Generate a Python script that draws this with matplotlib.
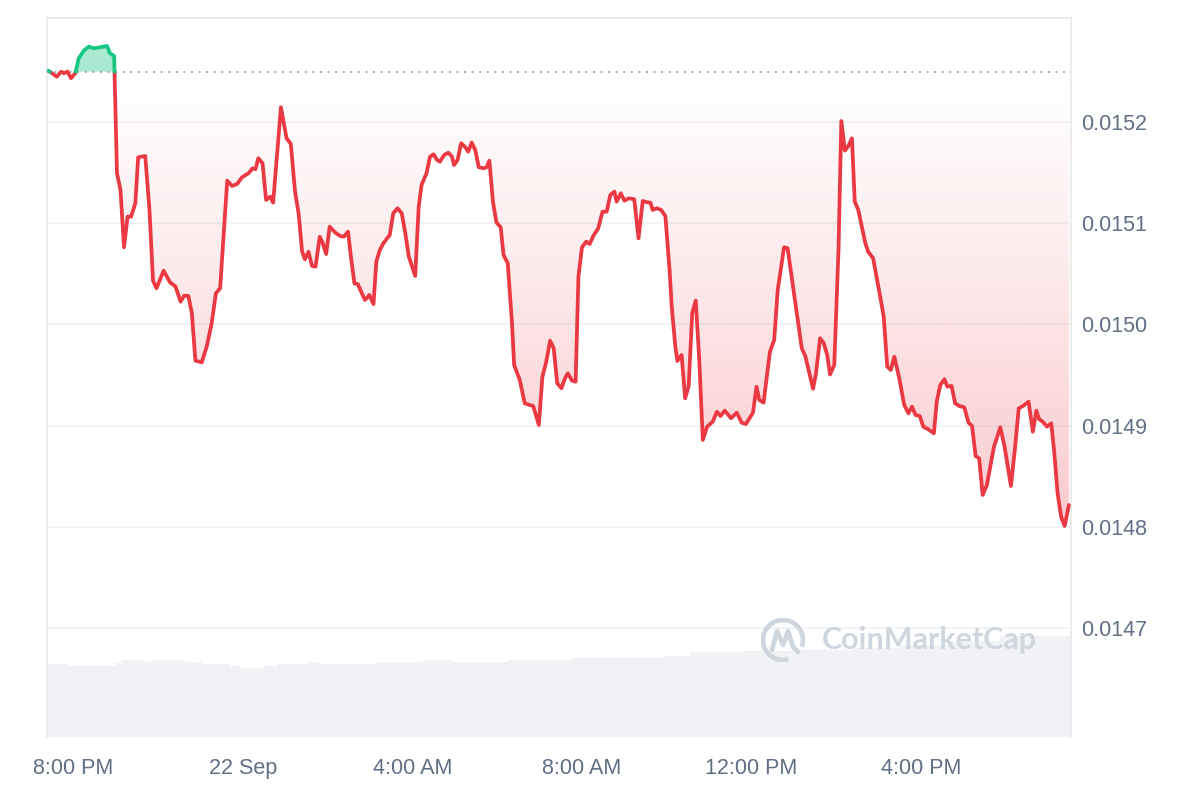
import numpy as np
import matplotlib
matplotlib.use('Agg')
import matplotlib.pyplot as plt
from matplotlib.path import Path
from matplotlib.patches import Arc

# minutes after 8:00 PM (21 Sep) and price in USD
minutes = [-35, -23, -17, -13, -8, -3, 3, 8, 15, 22, 29, 38, 48, 52, 58,
           62, 67, 72, 77, 82, 88, 92, 102, 108, 113, 118, 128, 137, 145, 152,
           157, 163, 168, 173, 182, 189, 196, 202, 208, 218, 225, 232, 239, 248, 254,
           258, 262, 268, 273, 279, 283, 294, 302, 308, 314, 319, 324, 328, 333, 338,
           343, 349, 353, 358, 363, 371, 378, 383, 389, 393, 398, 403, 409, 413, 419,
           425, 429, 434, 439, 448, 453, 459, 465, 470, 475, 484, 489, 493, 500, 505,
           510, 515, 519, 525, 531, 536, 539, 544, 549, 555, 559, 564, 569, 574, 581,
           585, 589, 594, 599, 605, 609, 615, 621, 624, 632, 639, 646, 651, 659, 664,
           669, 675, 680, 685, 691, 696, 700, 706, 711, 715, 720, 726, 731, 736, 743,
           749, 755, 760, 766, 769, 775, 780, 786, 794, 800, 806, 812, 817, 820, 826,
           832, 838, 844, 847, 852, 855, 861, 866, 871, 876, 881, 886, 891, 897, 905,
           911, 916, 922, 931, 939, 946, 952, 962, 967, 971, 977, 986, 992, 997, 1006,
           1011, 1022, 1031, 1036, 1047, 1051, 1057, 1062, 1067, 1071, 1077, 1083, 1087, 1092, 1097,
           1102, 1106, 1111, 1121, 1125, 1132, 1142, 1147, 1152, 1157, 1162, 1169, 1176, 1182, 1187,
           1192, 1198, 1203, 1210, 1218, 1222, 1227, 1233, 1237, 1243, 1248, 1254, 1261, 1267, 1272,
           1277, 1282, 1287, 1293, 1303, 1312, 1318, 1327, 1333, 1338, 1344, 1352, 1358, 1363, 1367,
           1372, 1378, 1384, 1388, 1393, 1398, 1403, 1409]

price = [0.0152507, 0.0152447, 0.0152497, 0.0152481, 0.0152497, 0.0152432, 0.0152481, 0.0152629,
         0.0152704, 0.0152744, 0.0152728, 0.0152738, 0.0152751, 0.0152679, 0.0152652,
         0.0151493, 0.0151328, 0.0150762, 0.0151065, 0.0151065, 0.0151197, 0.0151651, 0.0151664,
         0.0151131, 0.0150433, 0.0150358, 0.0150531, 0.0150417, 0.0150373, 0.0150225, 0.0150284,
         0.0150282, 0.0150111, 0.0149642, 0.0149627, 0.0149781, 0.0150012, 0.0150308, 0.0150358,
         0.0151420, 0.0151368, 0.0151388, 0.0151454, 0.0151493, 0.0151543, 0.0151533, 0.0151642,
         0.0151592, 0.0151230, 0.0151262, 0.0151203, 0.0152145, 0.0151839, 0.0151783, 0.0151312,
         0.0151098, 0.0150719, 0.0150644, 0.0150719, 0.0150578, 0.0150571, 0.0150867, 0.0150808,
         0.0150696, 0.0150966, 0.0150907, 0.0150874, 0.0150867, 0.0150917, 0.0150670, 0.0150407,
         0.0150397, 0.0150301, 0.0150242, 0.0150291, 0.0150202, 0.0150620, 0.0150736, 0.0150802,
         0.0150884, 0.0151098, 0.0151148, 0.0151098, 0.0150901, 0.0150670, 0.0150479, 0.0151163,
         0.0151378, 0.0151493, 0.0151657, 0.0151681, 0.0151625, 0.0151608, 0.0151674, 0.0151697,
         0.0151657, 0.0151575, 0.0151625, 0.0151790, 0.0151750, 0.0151707, 0.0151796, 0.0151723,
         0.0151553, 0.0151543, 0.0151553, 0.0151618, 0.0151213, 0.0151007, 0.0150960, 0.0150686,
         0.0150604, 0.0150012, 0.0149600, 0.0149452, 0.0149222, 0.0149205, 0.0149195, 0.0149007,
         0.0149484, 0.0149617, 0.0149840, 0.0149765, 0.0149419, 0.0149370, 0.0149469, 0.0149518,
         0.0149445, 0.0149435, 0.0150472, 0.0150762, 0.0150818, 0.0150795, 0.0150874, 0.0150950,
         0.0151114, 0.0151114, 0.0151279, 0.0151312, 0.0151213, 0.0151296, 0.0151223, 0.0151246,
         0.0151237, 0.0150851, 0.0151220, 0.0151207, 0.0151203, 0.0151131, 0.0151148, 0.0151131,
         0.0151072, 0.0150538, 0.0150176, 0.0149788, 0.0149640, 0.0149699, 0.0149271, 0.0149393,
         0.0150111, 0.0150237, 0.0149649, 0.0148859, 0.0148991, 0.0149040, 0.0149139, 0.0149096,
         0.0149149, 0.0149074, 0.0149129, 0.0149030, 0.0149017, 0.0149129, 0.0149386, 0.0149254,
         0.0149228, 0.0149731, 0.0149847, 0.0150341, 0.0150762, 0.0150753, 0.0150209, 0.0149765,
         0.0149689, 0.0149365, 0.0149511, 0.0149864, 0.0149817, 0.0149699, 0.0149506, 0.0149600,
         0.0150736, 0.0152010, 0.0151717, 0.0151763, 0.0151839, 0.0151213, 0.0151131, 0.0150802,
         0.0150719, 0.0150654, 0.0150275, 0.0150077, 0.0149583, 0.0149551, 0.0149682, 0.0149469,
         0.0149205, 0.0149123, 0.0149188, 0.0149106, 0.0149096, 0.0148991, 0.0148965, 0.0148925,
         0.0149238, 0.0149402, 0.0149459, 0.0149386, 0.0149393, 0.0149222, 0.0149195, 0.0149182,
         0.0149030, 0.0148998, 0.0148701, 0.0148679, 0.0148316, 0.0148415, 0.0148793, 0.0148985,
         0.0148793, 0.0148405, 0.0148793, 0.0149172, 0.0149195, 0.0149238, 0.0148941, 0.0149149,
         0.0149064, 0.0149040, 0.0148991, 0.0149024, 0.0148761, 0.0148333, 0.0148102, 0.0148010,
         0.0148217]

base_price = 0.0152497

# rolling volume, drawn as steps (start minute, level)
vol_start = [-37, -7, 59, 69, 102, 112, 158, 183, 222, 236, 269, 290, 331, 350,
             430, 495, 536, 614, 708, 835, 873, 948, 1029, 1100, 1170, 1241, 1312]
vol_level = [73, 71, 74, 77, 75, 77, 75, 73, 71, 69, 71, 73, 75, 73,
             75, 77, 75, 77, 79, 81, 85, 86, 87, 89, 92, 96, 101]

tick_min = [0, 240, 480, 720, 960, 1200]
tick_lab = ['8:00 PM', '22 Sep', '4:00 AM', '8:00 AM', '12:00 PM', '4:00 PM']
y_ticks = [0.0147, 0.0148, 0.0149, 0.0150, 0.0151, 0.0152]

RED = '#ea3943'
GREEN = '#16c784'
TXT = '#616e85'
GRID = '#eff2f5'
MARK = '#d0d6de'

x0, x1 = -37, 1412
y_lo, y_hi = 0.0145926, 0.0153027

plt.rcParams['font.family'] = ['Liberation Sans', 'DejaVu Sans']

fig = plt.figure(figsize=(12, 8), dpi=100)
pos = [47/1200, 63/800, 1024/1200, 719/800]

axv = fig.add_axes(pos)
widths = np.diff(vol_start + [x1])
axv.bar(vol_start, vol_level, width=widths, align='edge', color='#f0f2f5', linewidth=0)
axv.set_xlim(x0, x1)
axv.set_ylim(0, 719)
axv.axis('off')

ax = fig.add_axes(pos)
ax.set_facecolor('none')


def split_at(xs, ys, base):
    ox, oy = [xs[0]], [ys[0]]
    for i in range(1, len(xs)):
        a, b = ys[i-1], ys[i]
        if (a - base) * (b - base) < 0:
            t = (base - a) / (b - a)
            ox.append(xs[i-1] + t * (xs[i] - xs[i-1]))
            oy.append(base)
        ox.append(xs[i])
        oy.append(ys[i])
    return np.array(ox, float), np.array(oy, float)


xx, yy = split_at(minutes, price, base_price)
up = yy >= base_price
down = yy <= base_price

# green area above the open price
ax.fill_between(xx, yy, base_price, where=up, color=GREEN, alpha=0.36, linewidth=0, zorder=2)

# red gradient area below the open price
poly = ax.fill_between(xx, yy, base_price, where=down, facecolor='none', edgecolor='none')
clip = Path.make_compound_path(*poly.get_paths())
n = 256
alpha = np.linspace(0.30, 0.0, n) ** 1.1
grad = np.zeros((n, 1, 4))
grad[:, 0, :3] = matplotlib.colors.to_rgb(RED)
grad[:, 0, 3] = alpha
im = ax.imshow(grad, extent=[x0, x1, 0.01480, base_price], aspect='auto',
               origin='lower', zorder=2, interpolation='bicubic')
im.set_clip_path(clip, transform=ax.transData)

ax.plot(xx, np.ma.masked_where(~down, yy), color=RED, lw=2.7, zorder=4,
        solid_joinstyle='round', solid_capstyle='round')
ax.plot(xx, np.ma.masked_where(~up, yy), color=GREEN, lw=2.7, zorder=4,
        solid_joinstyle='round', solid_capstyle='round')
ax.axhline(base_price, color='#9aa0a8', lw=1.3, ls=(0, (1, 3.2)), zorder=3)

ax.set_xlim(x0, x1)
ax.set_ylim(y_lo, y_hi)
ax.set_xticks(tick_min)
ax.set_xticklabels(tick_lab)
ax.set_yticks(y_ticks)
ax.set_yticklabels(['%.4f' % v for v in y_ticks])
ax.yaxis.tick_right()
ax.tick_params(axis='both', length=0, labelsize=15.5, colors=TXT)
ax.tick_params(axis='x', pad=15)
ax.tick_params(axis='y', pad=7)
ax.grid(axis='y', color=GRID, lw=1.2, zorder=0)
ax.set_axisbelow(True)
for s in ['left', 'top', 'right']:
    ax.spines[s].set_color('#ececec')
    ax.spines[s].set_linewidth(1.5)
ax.spines['bottom'].set_visible(False)

# watermark
ax.text(0.757, 0.135, 'CoinMarketCap', transform=ax.transAxes, fontsize=22,
        fontweight='bold', family=['Lato', 'DejaVu Sans'], color=MARK,
        va='center', ha='left', zorder=3)
axl = fig.add_axes([761/1200, (800-662)/800, 44/1200, 44/800])
axl.set_xlim(-1.1, 1.1)
axl.set_ylim(-1.1, 1.1)
axl.axis('off')
axl.add_patch(Arc((0, 0), 2, 2, theta1=-20, theta2=285, color=MARK, lw=3.4))
axl.plot([-0.55, -0.3, 0.0, 0.25, 0.5, 0.75], [-0.5, 0.45, -0.25, 0.45, -0.35, -0.6],
         color=MARK, lw=3.4, solid_joinstyle='round', solid_capstyle='round')

plt.savefig('out.png', dpi=100)
plt.close()
